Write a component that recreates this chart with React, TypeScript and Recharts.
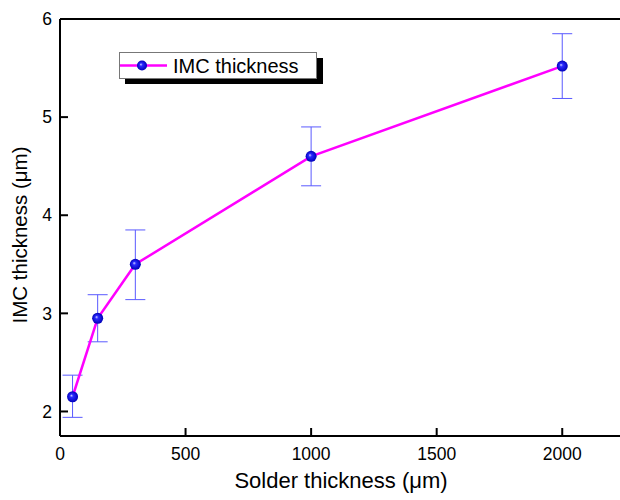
import React from 'react';
import { LineChart, Line, XAxis, YAxis, ErrorBar, ReferenceLine, Legend } from 'recharts';

const solderThickness = [50, 150, 300, 1000, 2000];
const imcThickness = [2.15, 2.95, 3.5, 4.6, 5.52];
const errLow = [1.94, 2.71, 3.14, 4.3, 5.19];
const errHigh = [2.37, 3.19, 3.85, 4.9, 5.85];
const xTicks = [0, 500, 1000, 1500, 2000];
const yTicks = [2, 3, 4, 5, 6];

const FONT = '"Liberation Sans", Arial, sans-serif';

const data = solderThickness.map((x, i) => ({
  x,
  y: imcThickness[i],
  err: [imcThickness[i] - errLow[i], errHigh[i] - imcThickness[i]],
}));

const Ball = (props: any) => {
  const { cx, cy, index } = props;
  if (cx == null || cy == null) return null;
  return <circle key={`dot-${index}`} cx={cx} cy={cy} r={5.5} fill="url(#ballGrad)" />;
};

const LegendBox = () => (
  <svg width={212} height={36} style={{ display: 'block', fontFamily: FONT }}>
    <rect x={6} y={6} width={198} height={26} fill="#000" />
    <rect x={0.5} y={0.5} width={197} height={26} fill="#fff" stroke="#777" />
    <line x1={1} x2={48} y1={13.5} y2={13.5} stroke="#ff00ff" strokeWidth={2.5} />
    <circle cx={23} cy={13.5} r={5} fill="url(#ballGradL)" />
    <defs>
      <radialGradient id="ballGradL" cx="50%" cy="50%" r="50%" fx="38%" fy="38%">
        <stop offset="0%" stopColor="#d8d8ff" />
        <stop offset="30%" stopColor="#2a2aff" />
        <stop offset="100%" stopColor="#0000b8" />
      </radialGradient>
    </defs>
    <text x={54} y={20.5} fontSize={20} fill="#000">IMC thickness</text>
  </svg>
);

export default function App() {
  return (
    <div style={{ position: 'absolute', left: 0, top: 0, width: 620, height: 500, overflow: 'hidden', background: '#fff' }}>
      <LineChart
        width={620}
        height={500}
        data={data}
        margin={{ top: 19, right: 0, bottom: 0, left: 0 }}
        style={{ fontFamily: FONT }}
      >
        <defs>
          <radialGradient id="ballGrad" cx="50%" cy="50%" r="50%" fx="38%" fy="38%">
            <stop offset="0%" stopColor="#d8d8ff" />
            <stop offset="30%" stopColor="#2a2aff" />
            <stop offset="100%" stopColor="#0000b8" />
          </radialGradient>
        </defs>
        <XAxis
          dataKey="x"
          type="number"
          domain={[0, 2230]}
          ticks={xTicks}
          height={64}
          allowDataOverflow
          stroke="#000"
          strokeWidth={2}
          tickSize={-8}
          tickMargin={20}
          tick={{ fill: '#000', fontSize: 17.5 }}
          label={{
            content: () => (
              <text x={341} y={488} textAnchor="middle" fontSize={22} fill="#000">
                Solder thickness (μm)
              </text>
            ),
          }}
        />
        <YAxis
          type="number"
          domain={[1.75, 6]}
          ticks={yTicks}
          width={60}
          allowDataOverflow
          stroke="#000"
          strokeWidth={2}
          tickSize={-8}
          tickMargin={16}
          tick={{ fill: '#000', fontSize: 17.5 }}
          label={{
            content: () => (
              <text
                x={26.5}
                y={235}
                textAnchor="middle"
                fontSize={20.5}
                fill="#000"
                transform="rotate(-90 26.5 235)"
              >
                IMC thickness (μm)
              </text>
            ),
          }}
        />
        <ReferenceLine y={6} stroke="#000" strokeWidth={2} />
        <Legend
          layout="vertical"
          align="center"
          verticalAlign="middle"
          wrapperStyle={{ position: 'absolute', left: 119, top: 52, width: 'auto' }}
          content={() => <LegendBox />}
        />
        <Line
          dataKey="y"
          name="IMC thickness"
          stroke="#ff00ff"
          strokeWidth={2.5}
          dot={Ball}
          activeDot={false}
          isAnimationActive={false}
        >
          <ErrorBar dataKey="err" direction="y" width={10} stroke="#5a5aff" strokeWidth={1} isAnimationActive={false} />
        </Line>
      </LineChart>
    </div>
  );
}
